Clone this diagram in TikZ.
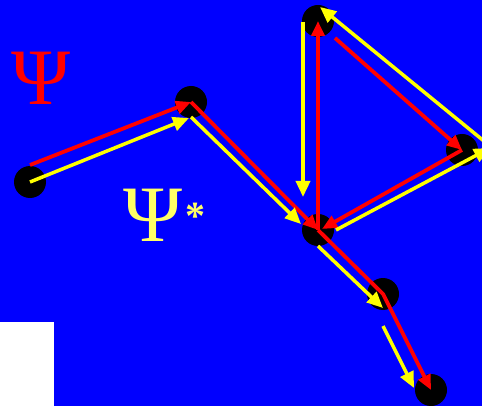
\documentclass[tikz,border=0pt]{standalone}
\usepackage{fontspec}
\setmainfont{Liberation Serif}
\usetikzlibrary{arrows.meta,calc}
\definecolor{bgblue}{RGB}{0,0,255}
\definecolor{pathred}{RGB}{255,0,0}
\definecolor{pathyellow}{RGB}{255,255,0}
\definecolor{textyellow}{RGB}{255,255,102}

\begin{document}
\begin{tikzpicture}[x=1pt, y=-1pt,
  dot/.style={circle, fill=black, minimum size=32pt, inner sep=0pt},
  redpath/.style={pathred, line width=3.8pt, -{Triangle[length=15pt,width=13pt]}},
  yellowpath/.style={pathyellow, line width=3.5pt, -{Triangle[length=16pt,width=14pt]}}]

\fill[bgblue] (0,0) rectangle (482,406);
\useasboundingbox (0,0) rectangle (482,406);
\fill[white] (0,322) rectangle (54,406);

\node[font=\fontsize{80}{80}\selectfont, text=pathred, anchor=base west, inner sep=0pt] (psi) at (11,105) {Ψ};
\node[font=\fontsize{80}{80}\selectfont, text=textyellow, anchor=base west, inner sep=0pt] (psistar) at (123,242) {Ψ\hspace{3pt}\raisebox{12pt}{\fontsize{40}{40}\selectfont\bfseries *}};

\node[dot] (a) at (30,182) {};
\node[dot] (b) at (191,102) {};
\node[dot] (c) at (318,21) {};
\node[dot] (d) at (462,150) {};
\node[dot] (e) at (318,230) {};
\node[dot] (f) at (383,294) {};
\node[dot] (g) at (431,390) {};

\draw[redpath] ($(a)+(0,-17)$) -- (b.center);
\draw[redpath] (b.center) -- (e.center);
\draw[redpath] (e.center) -- (c.center);
\draw[redpath] ($(c)+(17,17)$) -- (d.center);
\draw[redpath] (d.center) -- ($(e)+(4,-1)$);
\draw[redpath] (e.center) -- (f.center) -- (g.center);

\draw[yellowpath] (a.center) -- ($(b)+(-2,16)$);
\draw[yellowpath] ($(b)+(0,15)$) -- ($(e)+(-17,-6)$);
\draw[yellowpath] ($(c)+(-15,1)$) -- ($(e)+(-15,-33)$);
\draw[yellowpath] ($(d)+(28,-4)$) -- ($(c)+(2,-14)$);
\draw[yellowpath] ($(e)+(18,0)$) -- ($(d)+(28,-2)$);
\draw[yellowpath] ($(e)+(0,16)$) -- ($(f)+(0,14)$);
\draw[yellowpath] ($(f)+(0,32)$) -- ($(g)+(-17,-2)$);

\end{tikzpicture}
\end{document}
